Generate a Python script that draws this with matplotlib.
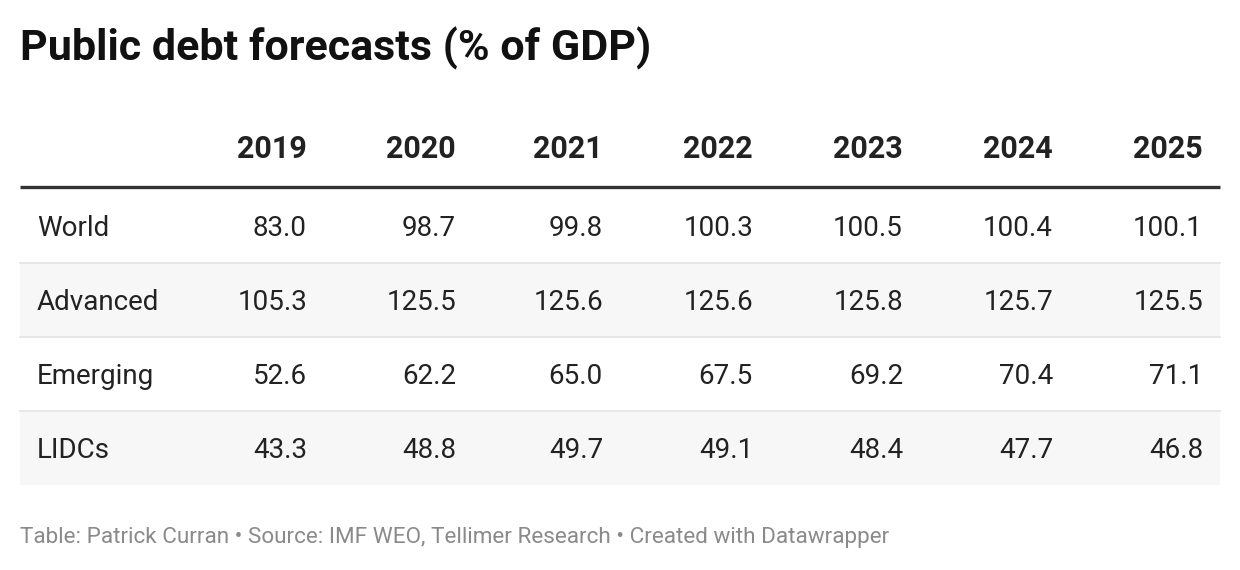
import matplotlib.pyplot as plt
from matplotlib.patches import Rectangle

plt.rcParams["font.family"] = ["Roboto", "DejaVu Sans"]

title = "Public debt forecasts (% of GDP)"
years = ["2019", "2020", "2021", "2022", "2023", "2024", "2025"]
regions = ["World", "Advanced", "Emerging", "LIDCs"]
world = [83.0, 98.7, 99.8, 100.3, 100.5, 100.4, 100.1]
advanced = [105.3, 125.5, 125.6, 125.6, 125.8, 125.7, 125.5]
emerging = [52.6, 62.2, 65.0, 67.5, 69.2, 70.4, 71.1]
lidcs = [43.3, 48.8, 49.7, 49.1, 48.4, 47.7, 46.8]
footer = "Table: Patrick Curran \u2022 Source: IMF WEO, Tellimer Research \u2022 Created with Datawrapper"

rows = [world, advanced, emerging, lidcs]

W, H = 1240, 570
fig = plt.figure(figsize=(W / 100, H / 100), dpi=100)
ax = fig.add_axes([0, 0, 1, 1])
ax.set_xlim(0, W)
ax.set_ylim(H, 0)
ax.axis("off")

left, right = 20, 1220
col_right = [307, 456, 603, 753, 903, 1053, 1203]
header_y = 149
rule_y = 187
row_top = 189
row_h = 74

ax.text(left, 48, title, fontsize=31, fontweight="bold", color="#111111",
        va="center", ha="left")

for x, yr in zip(col_right, years):
    ax.text(x, header_y, yr, fontsize=22, fontweight="bold", color="#222222",
            ha="right", va="center")

ax.plot([left, right], [rule_y, rule_y], color="#333333", lw=2.4,
        solid_capstyle="butt")

for i, (name, vals) in enumerate(zip(regions, rows)):
    top = row_top + i * row_h
    if i % 2 == 1:
        ax.add_patch(Rectangle((left, top), right - left, row_h,
                               facecolor="#f7f7f7", edgecolor="none", zorder=0))
    if i < len(rows) - 1:
        ax.plot([left, right], [top + row_h, top + row_h], color="#e3e3e3",
                lw=1.2, zorder=1)
    cy = top + row_h / 2 + 2
    ax.text(37, cy, name, fontsize=20, color="#222222", ha="left", va="center")
    for x, v in zip(col_right, vals):
        ax.text(x, cy, f"{v:.1f}", fontsize=20, color="#222222",
                ha="right", va="center")

ax.text(left, 538, footer, fontsize=16.2, color="#8a8a8a", ha="left",
        va="center")

fig.savefig("out.png", dpi=100, facecolor="white")
